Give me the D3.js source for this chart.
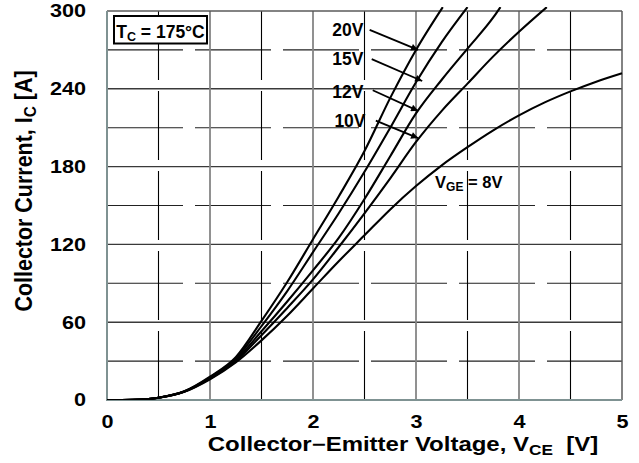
<!DOCTYPE html>
<html>
<head>
<meta charset="utf-8">
<script src="https://cdn.jsdelivr.net/npm/d3@7/dist/d3.min.js"></script>
<style>
  html, body { margin: 0; padding: 0; background: #fff; }
  svg { display: block; }
  text { font-family: "Liberation Sans", Arial, Helvetica, sans-serif; font-weight: bold; fill: #000; }
</style>
</head>
<body>
<svg id="chart" width="639" height="463"></svg>
<script>
// ---- data ----
const xTicks = [0, 1, 2, 3, 4, 5];
const yTicks = [0, 60, 120, 180, 240, 300];
const xMinor = [0.5, 1.5, 2.5, 3.5, 4.5];
const yMinor = [30, 90, 150, 210, 270];

const vge8  = [[0,0],[0.25,0.2],[0.5,1.8],[0.75,6.3],[1,16],[1.25,29],[1.5,46],[1.75,65],[2,86],[2.25,107],[2.5,127],[2.75,147],[3,165],[3.25,181],[3.5,195],[3.75,208],[4,219.5],[4.25,229.5],[4.5,238],[4.75,245.5],[5,252]];
const vge10 = [[0,0],[0.25,0.2],[0.5,1.8],[0.75,6.4],[1,16.5],[1.25,30],[1.5,50],[1.75,71],[2,93],[2.25,118],[2.5,144],[2.75,171],[3,199],[3.25,223],[3.5,244],[3.75,265],[4,284],[4.27,303]];
const vge12 = [[0,0],[0.25,0.2],[0.5,1.8],[0.75,6.5],[1,17],[1.25,31],[1.5,53],[1.75,76],[2,100],[2.25,125],[2.5,155],[2.75,188],[3,221],[3.25,247],[3.5,271],[3.75,295],[3.82,303]];
const vge15 = [[0,0],[0.25,0.2],[0.5,1.8],[0.75,6.6],[1,17.5],[1.25,32],[1.5,57],[1.75,84],[2,114],[2.25,144],[2.5,176],[2.75,210],[3,245],[3.25,276],[3.5,303]];
const vge20 = [[0,0],[0.25,0.2],[0.5,1.8],[0.75,6.7],[1,18],[1.25,33],[1.5,61],[1.75,91],[2,124],[2.25,157],[2.5,192],[2.75,233],[3,270],[3.26,303]];
const seriesList = [vge8, vge10, vge12, vge15, vge20];

// annotation labels with arrows
const arrowLabels = ["20V", "15V", "12V", "10V"];
const arrowLabelPos = [[2.49, 280.7], [2.49, 258.3], [2.49, 232.9], [2.51, 210.8]];
const arrowStarts = [[2.55, 285.5], [2.57, 262.9], [2.58, 238.9], [2.61, 215.5]];
const arrowTips = [[3.02, 270], [3.06, 246], [3.02, 223], [3.02, 202]];

// ---- layout ----
const svg = d3.select("#chart");
const x = d3.scaleLinear().domain([0, 5]).range([107, 622]);
const y = d3.scaleLinear().domain([0, 300]).range([400, 11]);
const [x0, x1] = x.range();
const [y0, y1] = y.range();

// defs
const defs = svg.append("defs");
defs.append("marker").attr("id", "arrow").attr("viewBox", "0 0 10 10")
  .attr("refX", 10).attr("refY", 5).attr("markerWidth", 11).attr("markerHeight", 7)
  .attr("markerUnits", "userSpaceOnUse").attr("orient", "auto")
  .append("path").attr("d", "M0,0 L10,5 L0,10 z").attr("fill", "#000");
defs.append("clipPath").attr("id", "clip").append("rect")
  .attr("x", x0).attr("y", y(303)).attr("width", x1 - x0 + 1).attr("height", y0 - y(303));

// ---- grid ----
const grid = svg.append("g");
grid.selectAll(".hmin").data(yMinor).join("line")
  .attr("x1", x0).attr("x2", x1).attr("y1", d => y(d)).attr("y2", d => y(d))
  .attr("stroke", "#222").attr("stroke-width", 1.1).attr("stroke-dasharray", "76 12");
grid.selectAll(".vmin").data(xMinor).join("line")
  .attr("x1", d => x(d)).attr("x2", d => x(d)).attr("y1", y1).attr("y2", y0)
  .attr("stroke", "#000").attr("stroke-width", 1.1).attr("stroke-dasharray", "69 11");
grid.selectAll(".hmaj").data(yTicks.slice(1, -1)).join("line")
  .attr("x1", x0).attr("x2", x1).attr("y1", d => y(d)).attr("y2", d => y(d))
  .attr("stroke", "#3a3a3a").attr("stroke-width", 1.4);
grid.selectAll(".vmaj").data(xTicks.slice(1, -1)).join("line")
  .attr("x1", d => x(d)).attr("x2", d => x(d)).attr("y1", y1).attr("y2", y0)
  .attr("stroke", "#858585").attr("stroke-width", 1.8);

// frame
svg.append("line").attr("x1", x0).attr("x2", x1).attr("y1", y1).attr("y2", y1).attr("stroke", "#5a5a5a").attr("stroke-width", 1.5);
svg.append("line").attr("x1", x1).attr("x2", x1).attr("y1", y1).attr("y2", y0).attr("stroke", "#5a5a5a").attr("stroke-width", 1.5);
svg.append("line").attr("x1", x0).attr("x2", x0).attr("y1", y1).attr("y2", y0 + 1).attr("stroke", "#7f9292").attr("stroke-width", 2);
svg.append("line").attr("x1", x0).attr("x2", x1).attr("y1", y0).attr("y2", y0).attr("stroke", "#7f9292").attr("stroke-width", 2);

// ---- curves ----
const line = d3.line().x(d => x(d[0])).y(d => y(d[1])).curve(d3.curveMonotoneX);
svg.append("g").attr("clip-path", "url(#clip)")
  .selectAll("path").data(seriesList).join("path")
  .attr("d", line).attr("fill", "none").attr("stroke", "#000")
  .attr("stroke-width", 2.1).attr("stroke-linejoin", "round");

// ---- axes tick labels ----
const tickG = svg.append("g");
yTicks.forEach(t => {
  tickG.append("text")
    .attr("transform", `translate(86,${y(t) + 6.4}) scale(1.2,1)`)
    .attr("text-anchor", "end").attr("font-size", 18).text(t);
});
xTicks.forEach(t => {
  tickG.append("text")
    .attr("transform", `translate(${x(t) + 0.5},428) scale(1.2,1)`)
    .attr("text-anchor", "middle").attr("font-size", 18).text(t);
});

// axis titles
const xt = svg.append("text")
  .attr("transform", "translate(403,451) scale(1.23,1)")
  .attr("text-anchor", "middle").attr("font-size", 19.5);
xt.append("tspan").text("Collector\u2212Emitter Voltage, V");
xt.append("tspan").attr("font-size", 14).attr("dy", 4).text("CE");
xt.append("tspan").attr("dy", -4).text("\u00a0\u00a0[V]");

const yt = svg.append("text")
  .attr("transform", "translate(31.5,191) rotate(-90) scale(1.1,1.2)")
  .attr("text-anchor", "middle").attr("font-size", 19.5);
yt.append("tspan").text("Collector Current, I");
yt.append("tspan").attr("font-size", 14).attr("dy", 4).text("C");
yt.append("tspan").attr("dy", -4).text(" [A]");

// ---- Tc box ----
svg.append("rect").attr("x", 114).attr("y", 16).attr("width", 93).attr("height", 27.5)
  .attr("fill", "#fff").attr("stroke", "#000").attr("stroke-width", 2);
const tc = svg.append("text").attr("x", 160.5).attr("y", 38.3)
  .attr("text-anchor", "middle").attr("font-size", 17.5);
tc.append("tspan").text("T");
tc.append("tspan").attr("font-size", 12.5).attr("dy", 3).text("C");
tc.append("tspan").attr("dy", -3).text(" = 175\u00b0C");

// ---- arrow annotations ----
const ann = svg.append("g");
arrowLabels.forEach((lab, i) => {
  ann.append("text").attr("x", x(arrowLabelPos[i][0])).attr("y", y(arrowLabelPos[i][1]))
    .attr("text-anchor", "end").attr("font-size", 17.5).text(lab);
  ann.append("line")
    .attr("x1", x(arrowStarts[i][0])).attr("y1", y(arrowStarts[i][1]))
    .attr("x2", x(arrowTips[i][0])).attr("y2", y(arrowTips[i][1]))
    .attr("stroke", "#000").attr("stroke-width", 1.8).attr("marker-end", "url(#arrow)");
});

// VGE = 8V label
const vg = svg.append("text").attr("x", x(3.185)).attr("y", y(163.6)).attr("font-size", 16.5);
vg.append("tspan").text("V");
vg.append("tspan").attr("font-size", 12).attr("dy", 3).text("GE");
vg.append("tspan").attr("dy", -3).text(" = 8V");
</script>
</body>
</html>
